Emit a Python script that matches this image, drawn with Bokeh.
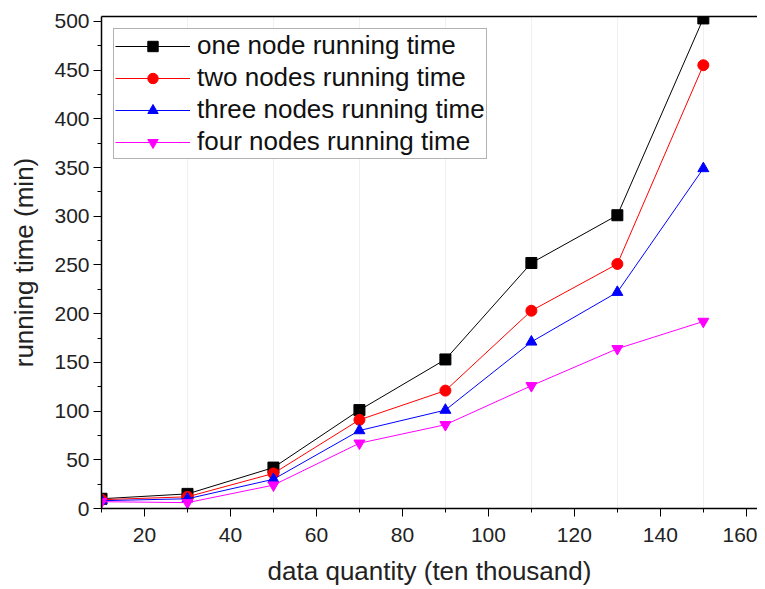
from bokeh.plotting import figure
from bokeh.models import Range1d, LinearAxis, Legend, LegendItem, FixedTicker
from bokeh.embed import file_html
from bokeh.resources import INLINE

x_vals = [10, 30, 50, 70, 90, 110, 130, 150]
one_node = [10, 15, 42, 101, 153, 252, 301, 503]
two_nodes = [9, 12, 36, 91, 121, 203, 251, 455]
three_nodes = [8, 10, 30, 80, 101, 171, 222, 349]
four_nodes = [7, 6, 24, 67, 86, 126, 164, 192]

series_names = ["one node running time", "two nodes running time",
                "three nodes running time", "four nodes running time"]
x_ticks = [20, 40, 60, 80, 100, 120, 140, 160]
y_ticks = [0, 50, 100, 150, 200, 250, 300, 350, 400, 450, 500]
x_title = "data quantity (ten thousand)"
y_title = "running time (min)"

FONT = "Liberation Sans"

p = figure(width=757, height=588, output_backend="svg", toolbar_location=None,
           x_range=Range1d(10, 162.6), y_range=Range1d(0, 505),
           min_border_left=101, min_border_right=0, min_border_top=16, min_border_bottom=78)
p.outline_line_color = None
p.background_fill_color = "white"
p.border_fill_color = "white"

# faint grid
p.xgrid.ticker = FixedTicker(ticks=x_vals)
p.xgrid.grid_line_color = "#f0f0f0"
p.ygrid.grid_line_color = None

for ax in (p.xaxis[0], p.yaxis[0]):
    ax.axis_line_color = "black"
    ax.axis_line_width = 1.5
    ax.major_tick_line_color = "black"
    ax.minor_tick_line_color = "black"
    ax.major_tick_in = 0
    ax.major_tick_out = 8
    ax.minor_tick_in = 0
    ax.minor_tick_out = 4
    ax.major_label_text_font = FONT
    ax.major_label_text_font_size = "21px"
    ax.major_label_text_color = "#222222"
    ax.axis_label_text_font = FONT
    ax.axis_label_text_font_size = "26px"
    ax.axis_label_text_font_style = "normal"
    ax.axis_label_text_color = "#222222"

p.xaxis.ticker = FixedTicker(ticks=x_ticks, minor_ticks=[10, 30, 50, 70, 90, 110, 130, 150])
p.yaxis.ticker = FixedTicker(ticks=y_ticks, minor_ticks=[25, 75, 125, 175, 225, 275, 325, 375, 425, 475])
p.xaxis.axis_label = x_title
p.yaxis.axis_label = y_title
p.xaxis.major_label_standoff = 11
p.yaxis.major_label_standoff = 4
p.xaxis.axis_label_standoff = 11
p.yaxis.axis_label_standoff = 12

top = LinearAxis(ticker=FixedTicker(ticks=[]), major_label_text_font_size="0px",
                 major_tick_out=0, minor_tick_out=0, axis_line_color="black",
                 axis_line_width=1.5)
p.add_layout(top, "above")

colors = ["black", "red", "blue", "magenta"]
markers = ["square", "circle", "triangle", "inverted_triangle"]
data = [one_node, two_nodes, three_nodes, four_nodes]
items = []
for name, ys, c, m in zip(series_names, data, colors, markers):
    ln = p.line(x_vals, ys, line_color=c, line_width=1)
    sc = p.scatter(x_vals, ys, marker=m, size=11, fill_color=c, line_color=c)
    items.append(LegendItem(label=name, renderers=[ln, sc]))

legend = Legend(items=items, location="top_left")
legend.border_line_color = "#666666"
legend.border_line_width = 1.5
legend.label_text_font = FONT
legend.label_text_font_size = "26px"
legend.label_text_color = "#111111"
legend.glyph_width = 75
legend.glyph_height = 26
legend.label_height = 26
legend.spacing = 1
legend.padding = 1
legend.margin = 12
legend.label_standoff = 7
p.add_layout(legend, "center")

open("out.html", "w").write(file_html(p, INLINE))
